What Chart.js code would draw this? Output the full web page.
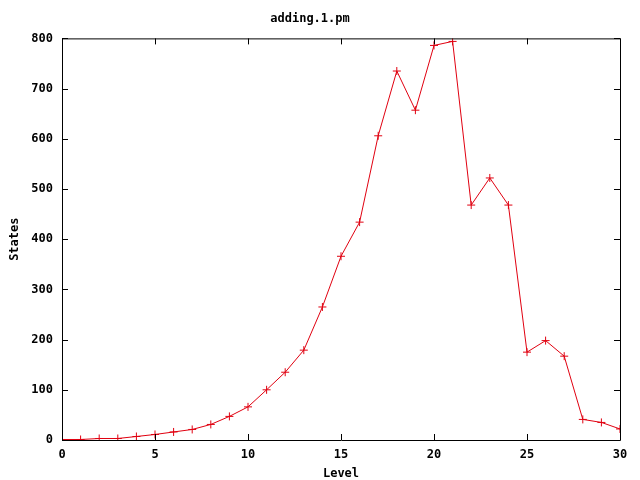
<!DOCTYPE html>
<html>
<head>
<meta charset="utf-8">
<script src="https://cdn.jsdelivr.net/npm/chart.js@4"></script>
<style>
  body { margin: 0; background: #fff; }
  canvas { display: block; }
</style>
</head>
<body>
<canvas id="chart" width="640" height="480"></canvas>
<script>
const levels = [0, 1, 2, 3, 4, 5, 6, 7, 8, 9, 10, 11, 12, 13, 14, 15,
  16, 17, 18, 19, 20, 21, 22, 23, 24, 25, 26, 27, 28, 29, 30];
const states = [1, 1, 3, 3, 7, 11, 16, 21, 31, 47, 66, 100, 135, 179, 265, 366,
  434, 606, 735, 657, 786, 794, 468, 522, 468, 175, 198, 167, 41, 35, 22];
const xTicks = [0, 5, 10, 15, 20, 25, 30];
const yTicks = [0, 100, 200, 300, 400, 500, 600, 700, 800];

const monoFont = { family: "'DejaVu Sans Mono', 'Liberation Mono', monospace", size: 12, weight: "bold" };

// gnuplot style frame with inward ticks on all four sides
const frameTicks = {
  id: "frameTicks",
  afterDatasetsDraw(chart) {
    const { ctx, chartArea: a, scales } = chart;
    const len = 6;
    ctx.save();
    ctx.strokeStyle = "#000";
    ctx.lineWidth = 1;
    ctx.beginPath();
    ctx.rect(a.left + 0.5, a.top + 0.5, a.right - a.left, a.bottom - a.top);
    xTicks.forEach(v => {
      const x = Math.round(scales.x.getPixelForValue(v)) + 0.5;
      ctx.moveTo(x, a.bottom); ctx.lineTo(x, a.bottom - len);
      ctx.moveTo(x, a.top); ctx.lineTo(x, a.top + len);
    });
    yTicks.forEach(v => {
      const y = Math.round(scales.y.getPixelForValue(v)) + 0.5;
      ctx.moveTo(a.left, y); ctx.lineTo(a.left + len, y);
      ctx.moveTo(a.right, y); ctx.lineTo(a.right - len, y);
    });
    ctx.stroke();
    ctx.restore();
  }
};

new Chart(document.getElementById("chart"), {
  type: "line",
  data: {
    datasets: [{
      label: "adding.1.pm",
      data: levels.map((l, i) => ({ x: l, y: states[i] })),
      borderColor: "#e00010",
      borderWidth: 1,
      pointStyle: "cross",
      pointRadius: 4,
      pointBorderWidth: 1,
      pointBorderColor: "#e00010",
      tension: 0,
      fill: false
    }]
  },
  options: {
    responsive: false,
    animation: false,
    layout: { padding: { left: 0, right: 20, top: 0, bottom: 0 } },
    plugins: {
      legend: { display: false },
      tooltip: { enabled: false },
      title: {
        display: true,
        text: "adding.1.pm",
        color: "#000",
        font: monoFont,
        padding: { top: 12, bottom: 12 }
      }
    },
    scales: {
      x: {
        type: "linear",
        min: 0, max: 30,
        afterBuildTicks: s => { s.ticks = xTicks.map(v => ({ value: v })); },
        afterFit: s => { s.height = 40; },
        grid: { display: false, drawTicks: false },
        border: { display: false },
        ticks: { color: "#000", font: monoFont, padding: 8, maxRotation: 0 },
        title: { display: true, text: "Level", color: "#000", font: monoFont, padding: { top: 4, bottom: -1 } }
      },
      y: {
        type: "linear",
        min: 0, max: 800,
        afterBuildTicks: s => { s.ticks = yTicks.map(v => ({ value: v })); },
        afterFit: s => { s.width = 62; },
        grid: { display: false, drawTicks: false },
        border: { display: false },
        ticks: { color: "#000", font: monoFont, padding: 9 },
        title: { display: true, text: "States", color: "#000", font: monoFont, padding: { top: 8, bottom: 0 } }
      }
    }
  },
  plugins: [frameTicks]
});
</script>
</body>
</html>
